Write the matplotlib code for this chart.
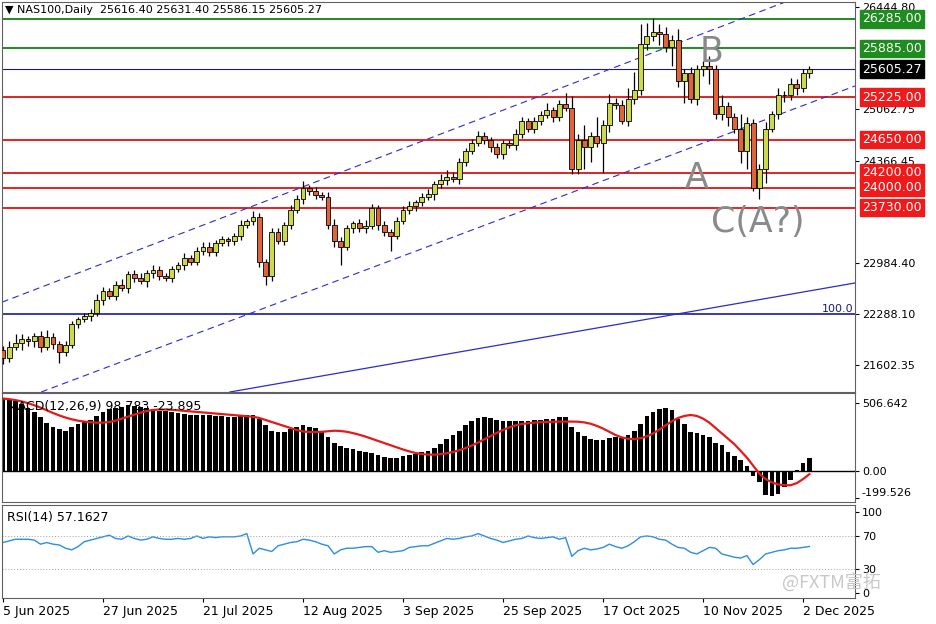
import matplotlib
matplotlib.use("Agg")
import matplotlib.pyplot as plt
from matplotlib.transforms import blended_transform_factory as btf

# ---------------- data ----------------
closes = [21700,21850,21900,21950,21920,22000,21850,21980,21880,21780,21870,22150,22220,
          22260,
          22300,22480,22600,22540,22680,22640,22830,22780,22740,22840,22880,22800,22780,22900,22960,23050,23000,23150,23200,23130,23250,23300,23280,23350,23500,
          23550,
          23600,23000,22800,23400,23280,23500,23700,23850,24000,23960,23900,23880,23500,23280,23200,23450,23520,23450,23480,23720,23500,23400,23350,23550,23700,
          23750,
          23800,23880,23920,24050,24100,24150,24120,24350,24500,24600,24700,24650,24550,24450,24600,24580,24720,24900,24800,24900,24980,25050,24950,25130,
          25080,24250,
          24650,24550,24700,24600,24850,25150,25120,24900,25200,25320,25950,26050,26100,26080,25900,26000,25450,25550,25200,25600,25650,25600,25000,25100,24950,
          24800,
          24500,24880,24000,24250,24800,25000,25250,25250,25400,25350,25550,25605.27]
first_open = 21800
up_wick = [60,80,120,70,50,40,60,90,50,40,
           60,40,30,50,60,80,50,40,60,90,
           40,50,60,40,70,60,50,40,30,60,
           40,50,70,60,40,50,30,40,60,30,
           80,60,40,50,60,40,70,50,90,40,
           50,40,60,70,50,40,30,60,80,60,
           40,50,40,60,50,70,40,50,60,40,
           80,90,60,50,40,60,70,50,40,60,
           50,40,70,60,40,50,60,90,40,60,
           150,160,80,200,60,250,60,120,70,60,
           150,250,260,180,200,120,100,60,150,50,
           80,60,70,130,60,150,60,60,200,80,
           50,70,90,40,100,60,90,70,60,40]
low_wick = [80,60,40,90,60,80,70,40,60,150,
            60,40,50,40,60,40,70,50,60,40,
            60,50,40,80,60,50,40,60,40,70,
            50,40,60,50,60,40,70,50,60,40,
            60,70,120,60,40,50,60,40,70,60,
            50,40,60,80,250,40,60,50,60,40,
            70,60,200,50,40,60,70,50,40,80,
            60,60,40,70,60,50,40,60,70,50,
            60,40,70,50,40,60,50,40,60,50,
            40,60,70,300,200,50,400,90,60,40,
            60,70,60,90,60,150,70,250,90,300,
            60,80,90,200,70,80,120,60,160,250,
            50,150,180,40,70,90,60,100,60,60]
macd_hist = [544,530,520,500,470,440,400,360,330,310,300,330,350,365,
             380,410,440,460,470,480,490,485,480,470,460,450,445,440,430,425,420,420,415,415,410,410,405,400,410,415,
             420,390,340,300,290,290,310,330,340,330,320,300,250,210,185,170,165,150,140,135,120,105,100,100,110,120,
             130,140,150,170,200,240,270,300,340,370,395,400,395,380,375,370,370,375,375,380,380,385,390,400,405,
             330,290,260,240,230,230,245,250,245,265,300,350,410,440,460,470,455,390,350,290,280,270,250,210,190,140,110,
             80,40,-40,-80,-180,-190,-170,-120,-70,10,60,98.783]
macd_signal = [540,535,528,518,505,490,472,452,432,414,398,385,375,368,363,360,360,
               365,375,390,405,420,435,447,455,
               458,458,456,452,448,444,440,436,432,428,424,420,416,412,408,404,
               395,380,365,350,335,320,305,295,
               290,290,292,296,300,
               298,292,282,270,256,240,224,208,192,176,160,146,134,126,
               122,122,125,132,142,155,170,190,
               212,236,260,284,306,325,340,
               350,356,360,363,365,367,368,368,368,367,
               362,352,336,316,292,268,250,240,
               238,244,258,280,308,340,370,395,410,417,
               410,390,360,320,280,240,200,
               150,100,40,-20,
               -60,-85,-100,-106,-106,
               -90,-60,-23.895]
rsi = [62,64,66,66,66,65,60,62,60,59,55,53,57,63,65,67,69,71,67,66,70,67,65,66,69,67,66,66,67,66,
       67,70,67,69,68,69,69,69,70,73,48,55,53,51,58,60,62,63,66,65,63,60,58,48,53,55,55,56,57,57,
       50,52,50,51,52,56,57,58,58,61,64,67,66,67,69,70,73,70,67,65,62,64,66,67,70,68,67,68,69,66,
       68,45,52,55,53,54,56,60,57,55,58,63,69,70,69,66,65,60,56,55,50,48,52,56,55,48,46,44,43,46,
       35,41,48,50,52,53,55,55,56,57.1627]
date_labels = ["5 Jun 2025","27 Jun 2025","21 Jul 2025","12 Aug 2025","3 Sep 2025",
               "25 Sep 2025","17 Oct 2025","10 Nov 2025","2 Dec 2025"]
date_idx = [0,16,32,48,64,80,96,112,128]
levels_green = [26285.00, 25885.00]
levels_red = [25225.00, 24650.00, 24200.00, 24000.00, 23730.00]
last_price = 25605.27
level_blue = 22288.10
price_ticks = [26444.80, 25062.75, 24366.45, 22984.40, 22288.10, 21602.35]
upper_channel = [(-0.5, 22440), (126, 26540)]
lower_channel = [(11.2, 21398), (136.3, 25376)]
trend_line = [(36.3, 21236), (136.3, 22711)]
wave_labels = [("B", 113.4, 25836), ("A", 111.0, 24131), ("C(A?)", 120.8, 23536)]

# ---------------- figure ----------------
W, H = 936, 624
fig = plt.figure(figsize=(W/100, H/100), dpi=100)
fig.patch.set_facecolor("white")
def ax_px(x0, y0, x1, y1):
    return fig.add_axes([x0/W, 1-y1/H, (x1-x0)/W, (y1-y0)/H])

ax = ax_px(2, 2, 855, 392)
axm = ax_px(2, 393, 855, 502)
axr = ax_px(2, 505, 855, 598)
n = min(len(closes), len(up_wick), len(low_wick))
xlim = (-0.16, 136.3)
FS = 8

for a in (ax, axm, axr):
    a.set_xlim(*xlim)
    a.yaxis.tick_right()
    a.tick_params(axis="y", labelsize=FS, length=3, pad=2, direction="out")
    a.tick_params(axis="x", length=0, labelbottom=False)
    for s in a.spines.values():
        s.set_color("#606060"); s.set_linewidth(0.8)

# candles
opens = [first_open] + closes[:-1]
for i in range(n):
    o, c = opens[i], closes[i]
    hi = max(o, c) + up_wick[i]; lo = min(o, c) - low_wick[i]
    ax.vlines(i, lo, hi, color="black", lw=0.9, zorder=3)
    bull = c >= o
    col = "#cbd94a" if bull else "#e0633a"
    ax.bar(i, max(abs(c-o), 8), bottom=min(o, c), width=0.78, color=col,
           edgecolor="black", linewidth=0.6, zorder=4)

ax.set_ylim(21236, 26512)
for p in levels_green:
    ax.axhline(p, color="#1e8c1e", lw=1.4, zorder=2)
for p in levels_red:
    ax.axhline(p, color="#e42222", lw=1.4, zorder=2)
ax.axhline(last_price, color="#202060", lw=0.8, zorder=2)
ax.axhline(level_blue, color="#1a1a9a", lw=1.2, zorder=2)
for (p1, p2, ls, lw) in [(upper_channel[0], upper_channel[1], (0, (6, 4)), 0.8),
                          (lower_channel[0], lower_channel[1], (0, (6, 4)), 0.8),
                          (trend_line[0], trend_line[1], "-", 0.9)]:
    ax.axline(p1, p2, color="#2b2bd0", lw=lw, ls=ls, zorder=2)

ax.set_yticks(price_ticks)
ax.set_yticklabels([f"{p:.2f}" for p in price_ticks])

tr = btf(ax.transAxes, ax.transData)
def box(a, p, txt, fc, tc):
    a.text(1.008, p, txt, transform=btf(a.transAxes, a.transData), fontsize=FS+1,
           color=tc, va="center", ha="left", clip_on=False, zorder=10,
           bbox=dict(boxstyle="square,pad=0.18", fc=fc, ec=fc))
for p in levels_green:
    box(ax, p, f"{p:.2f}", "#1e8c1e", "white")
for p in levels_red:
    box(ax, p, f"{p:.2f}", "#f01a1a", "white")
box(ax, last_price, f"{last_price:.2f}", "black", "white")
ax.text(0.998, level_blue, "100.0", transform=tr, ha="right", va="bottom",
        fontsize=FS, color="#1a1a7a")

for t, x, y in wave_labels:
    ax.text(x, y, t, fontsize=25, color="#8a8a8a", ha="center", va="center", zorder=5)

ax.text(0.004, 0.993, "▼ NAS100,Daily  25616.40 25631.40 25586.15 25605.27",
        transform=ax.transAxes, fontsize=FS, va="top", ha="left")

# MACD
axm.bar(range(len(macd_hist)), macd_hist, width=0.75, color="black", zorder=2)
axm.plot(range(len(macd_signal)), macd_signal, color="#e41a1a", lw=1.6, zorder=3)
axm.axhline(0, color="black", lw=1, zorder=1)
axm.set_ylim(-231, 581)
axm.set_yticks([506.642, 0, -199.526])
axm.set_yticklabels(["506.642", "0.00", "-199.526"])
axm.get_yticklabels()[2].set_va("bottom")
axm.text(0.006, 0.94, "MACD(12,26,9) 98.783 -23.895", transform=axm.transAxes,
         fontsize=FS+1, va="top", ha="left", zorder=5)

# RSI
axr.plot(range(len(rsi)), rsi, color="#2a8ee6", lw=1)
axr.axhline(70, color="#a0a0a0", lw=0.7, ls=(0, (1, 2)))
axr.axhline(30, color="#a0a0a0", lw=0.7, ls=(0, (1, 2)))
axr.set_ylim(-6, 108)
axr.set_yticks([100, 70, 30, 0])
axr.text(0.006, 0.94, "RSI(14) 57.1627", transform=axr.transAxes,
         fontsize=FS+1, va="top", ha="left")

# dates
axr.set_xticks(date_idx)
axr.tick_params(axis="x", length=3, direction="out", labelbottom=True,
                labelsize=FS+1, pad=2)
axr.set_xticklabels(date_labels, ha="left")

fig.text(782/W, 1-582/H, "@FXTM富拓", fontsize=13, color="#c8c8c8",
         family=["Noto Sans CJK SC", "DejaVu Sans"], va="center", ha="left")

fig.savefig("out.png", dpi=100)
